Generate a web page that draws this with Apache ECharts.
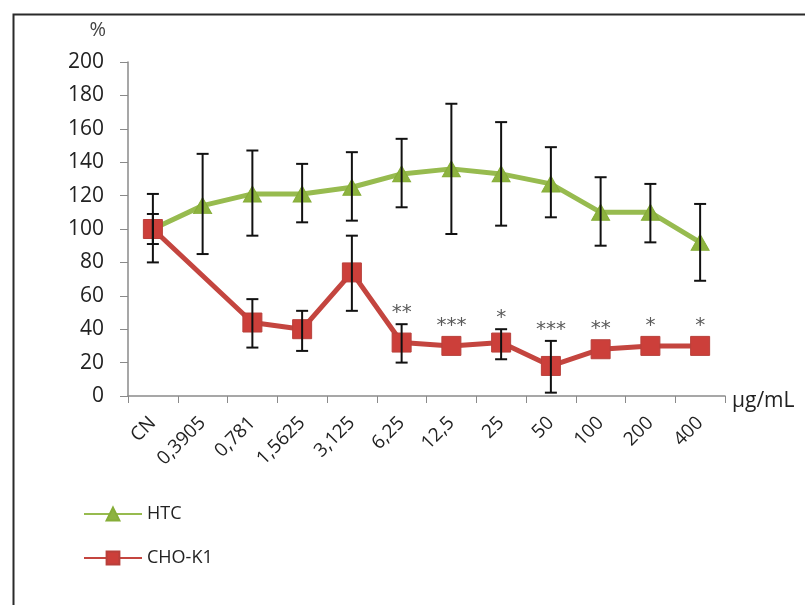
<!DOCTYPE html>
<html>
<head>
<meta charset="utf-8">
<script src="https://cdn.jsdelivr.net/npm/echarts@6/dist/echarts.min.js"></script>
<style>
html,body{margin:0;padding:0;background:#fff;}
#chart{width:805px;height:605px;}
</style>
</head>
<body>
<div id="chart"></div>
<script>
// ---- data ----
var categories = ['CN', '0,3905', '0,781', '1,5625', '3,125', '6,25', '12,5', '25', '50', '100', '200', '400'];
var htcValues = [100, 114, 121, 121, 125, 133, 136, 133, 127, 110, 110, 92];
var htcUpper  = [121, 145, 147, 139, 146, 154, 175, 164, 149, 131, 127, 115];
var htcLower  = [80, 85, 96, 104, 105, 113, 97, 102, 107, 90, 92, 69];
var choValues = [100, null, 44, 40, 74, 32, 30, 32, 18, 28, 30, 30];
var choUpper  = [109, null, 58, 51, 96, 43, null, 40, 33, null, null, null];
var choLower  = [91, null, 29, 27, 51, 20, null, 22, 2, null, null, null];
var choSignif = ['', '', '', '', '', '**', '***', '*', '***', '**', '*', '*'];
var yTicks = [0, 20, 40, 60, 80, 100, 120, 140, 160, 180, 200];

var FONT = '"Open Sans", Lato, sans-serif';

function errData(vals, up, lo) {
  var out = [];
  for (var i = 0; i < vals.length; i++) {
    if (up[i] != null && lo[i] != null) out.push([i, lo[i], up[i]]);
  }
  return out;
}

function errRender(params, api) {
  var x = api.value(0);
  var pLo = api.coord([x, api.value(1)]);
  var pHi = api.coord([x, api.value(2)]);
  var hw = 6;
  var st = { stroke: '#111', lineWidth: 2 };
  return {
    type: 'group',
    children: [
      { type: 'line', shape: { x1: pHi[0], y1: pHi[1], x2: pLo[0], y2: pLo[1] }, style: st },
      { type: 'line', shape: { x1: pHi[0] - hw, y1: pHi[1], x2: pHi[0] + hw, y2: pHi[1] }, style: st },
      { type: 'line', shape: { x1: pLo[0] - hw, y1: pLo[1], x2: pLo[0] + hw, y2: pLo[1] }, style: st }
    ]
  };
}

var starData = [];
for (var i = 0; i < categories.length; i++) {
  if (choSignif[i]) starData.push([i, choValues[i], choUpper[i] == null ? choValues[i] : choUpper[i], choSignif[i]]);
}

function starRender(params, api) {
  var x = api.value(0);
  var pv = api.coord([x, api.value(1)]);
  var pu = api.coord([x, api.value(2)]);
  var top = Math.min(pv[1] - 9, pu[1]);
  var idx = params.dataIndex;
  return {
    type: 'text',
    style: {
      x: pv[0], y: top - 11,
      text: starData[idx][3],
      fill: '#5a5a5a', font: '20px "DejaVu Sans", sans-serif',
      align: 'center', verticalAlign: 'middle'
    }
  };
}

var chart = echarts.init(document.getElementById('chart'), null, { renderer: 'canvas' });
chart.setOption({
  animation: false,
  backgroundColor: '#fff',
  graphic: [{
    type: 'rect', left: 11, top: 12,
    shape: { width: 820, height: 620 },
    style: { fill: 'none', stroke: '#2a2a2a', lineWidth: 2 },
    silent: true
  }],
  grid: { left: 128, right: 80, top: 62, bottom: 209, containLabel: false },
  legend: {
    orient: 'vertical', left: 78, top: 500,
    itemWidth: 58, itemHeight: 16, itemGap: 26,
    textStyle: { fontFamily: FONT, fontSize: 18, color: '#222' },
    data: ['HTC', 'CHO-K1']
  },
  xAxis: {
    type: 'category', data: categories, boundaryGap: true,
    name: 'µg/mL', nameLocation: 'end', nameGap: 7,
    nameTextStyle: { fontFamily: FONT, fontSize: 21, color: '#222', verticalAlign: 'top', padding: [-5, 0, 0, 0] },
    axisLine: { lineStyle: { color: '#8a8a8a', width: 1.5 } },
    axisTick: { show: true, alignWithLabel: false, length: 7, lineStyle: { color: '#8a8a8a' } },
    axisLabel: { rotate: 45, margin: 24, interval: 0, fontFamily: FONT, fontSize: 19, color: '#222' },
    splitLine: { show: false }
  },
  yAxis: {
    type: 'value', min: 0, max: 200, interval: 20,
    name: '%', nameLocation: 'end', nameGap: 22,
    nameTextStyle: { fontFamily: FONT, fontSize: 20, color: '#444', align: 'right', padding: [0, 22, 0, 0] },
    axisLine: { show: true, lineStyle: { color: '#8a8a8a', width: 1.5 } },
    axisTick: { show: true, length: 8, lineStyle: { color: '#8a8a8a' } },
    axisLabel: { margin: 24, fontFamily: FONT, fontSize: 21, color: '#222',
      formatter: function (v) { return yTicks.indexOf(v) >= 0 ? String(v) : ''; } },
    splitLine: { show: false }
  },
  series: [
    {
      name: 'HTC', type: 'line', data: htcValues, z: 3,
      symbol: 'triangle', symbolSize: [18, 16],
      lineStyle: { color: '#97BB4F', width: 5 },
      itemStyle: { color: '#8DB33F', borderColor: '#86AD38', borderWidth: 1 }
    },
    {
      name: 'CHO-K1', type: 'line', data: choValues, connectNulls: true, z: 3,
      symbol: 'rect', symbolSize: 19,
      lineStyle: { color: '#C4453F', width: 5 },
      itemStyle: { color: '#CC3F3A', borderColor: '#B8403B', borderWidth: 1 }
    },
    {
      type: 'custom', name: 'htcErr', data: errData(htcValues, htcUpper, htcLower),
      renderItem: errRender, z: 5, silent: true,
      encode: { x: 0, y: [1, 2] }
    },
    {
      type: 'custom', name: 'choErr', data: errData(choValues, choUpper, choLower),
      renderItem: errRender, z: 5, silent: true,
      encode: { x: 0, y: [1, 2] }
    },
    {
      type: 'custom', name: 'stars', data: starData,
      renderItem: starRender, z: 6, silent: true,
      encode: { x: 0, y: [1, 2] }
    }
  ]
});
</script>
</body>
</html>
